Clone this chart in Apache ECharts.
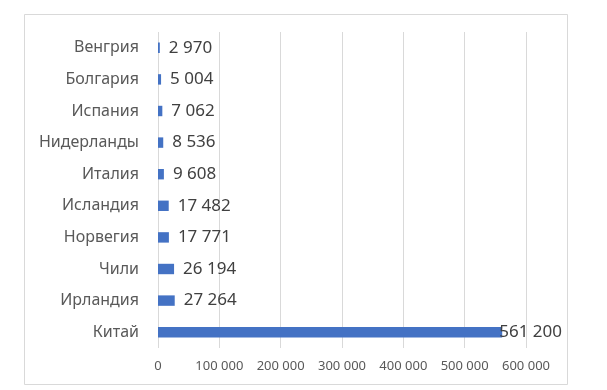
<!DOCTYPE html>
<html>
<head>
<meta charset="utf-8">
<script src="https://cdn.jsdelivr.net/npm/echarts@6/dist/echarts.min.js"></script>
<style>html,body{margin:0;padding:0;background:#fff}#c{width:607px;height:390px}</style>
</head>
<body>
<div id="c"></div>
<script>
var categories = ['Венгрия','Болгария','Испания','Нидерланды','Италия','Исландия','Норвегия','Чили','Ирландия','Китай'];
var values = [2970, 5004, 7062, 8536, 9608, 17482, 17771, 26194, 27264, 561200];
var xTicks = [0, 100000, 200000, 300000, 400000, 500000, 600000];

function fmt(v){ return String(v).replace(/\B(?=(\d{3})+(?!\d))/g, ' '); }

var chart = echarts.init(document.getElementById('c'), null, {renderer:'canvas'});
var data = values.map(function(v, i){
  var item = {value: v};
  if (v > 100000) item.label = {distance: -3};
  return item;
});
chart.setOption({
  animation: false,
  backgroundColor: '#fff',
  graphic: [{type:'rect', shape:{x:24.5, y:14.5, width:543, height:370}, style:{fill:'none', stroke:'#d9d9d9', lineWidth:1}, silent:true}],
  grid: {left:158, right:81, top:32, bottom:42, containLabel:false},
  xAxis: {
    type:'value', min:xTicks[0], max:xTicks[xTicks.length-1], interval:100000,
    axisLine:{show:false}, axisTick:{show:false},
    splitLine:{show:true, lineStyle:{color:'#d9d9d9', width:1}},
    axisLabel:{formatter:function(v){return fmt(v);}, color:'#595959', fontFamily:'Noto Sans', fontSize:13, margin:12}
  },
  yAxis: {
    type:'category', data:categories, inverse:true,
    axisLine:{show:false}, axisTick:{show:false},
    axisLabel:{color:'#595959', fontFamily:'Noto Sans', fontSize:16, margin:19}
  },
  series: [{
    type:'bar', data:data, barWidth:'33%',
    itemStyle:{color:'#4472C4'},
    label:{show:true, position:'right', distance:9, color:'#404040', fontFamily:'Noto Sans', fontSize:17,
      formatter:function(p){return fmt(p.value);}}
  }]
});
</script>
</body>
</html>
